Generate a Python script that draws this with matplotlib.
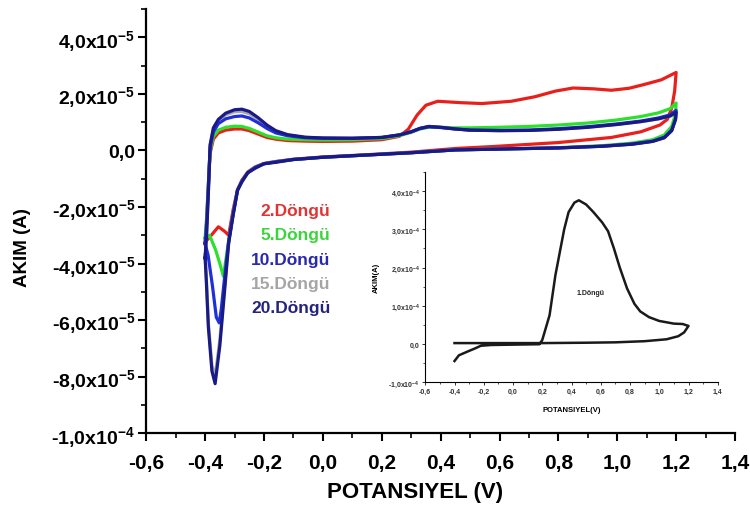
import numpy as np
import matplotlib
matplotlib.use("Agg")
import matplotlib.pyplot as plt
from matplotlib.ticker import MultipleLocator

plt.rcParams['font.family'] = ['Liberation Sans', 'DejaVu Sans']
plt.rcParams['font.weight'] = 'bold'
plt.rcParams['mathtext.default'] = 'regular'

# --- data: potential (V) and current (x1e-5 A) for each cycle ---
E_2 = [-0.400, -0.395, -0.389, -0.383, -0.372, -0.355, -0.330, -0.300, -0.275, -0.250,
       -0.220, -0.190, -0.160, -0.120, -0.060, 0.000, 0.100, 0.200, 0.260, 0.290,
       0.320, 0.350, 0.390, 0.470, 0.540, 0.640, 0.720, 0.790, 0.850, 0.920,
       0.980, 1.040, 1.090, 1.150, 1.200,
       1.195, 1.185, 1.170, 1.145, 1.080, 0.980, 0.800, 0.580, 0.450, 0.300,
       0.150, 0.000, -0.100, -0.160, -0.200, -0.230, -0.255, -0.275, -0.290, -0.305,
       -0.320, -0.335, -0.355, -0.375, -0.400]
I_2 = [-3.25, -2.5, -1.2, -0.1, 0.40, 0.62, 0.72, 0.76, 0.76, 0.70,
       0.58, 0.46, 0.40, 0.35, 0.33, 0.32, 0.33, 0.38, 0.50, 0.75,
       1.25, 1.60, 1.74, 1.69, 1.66, 1.74, 1.90, 2.10, 2.21, 2.18,
       2.13, 2.20, 2.33, 2.50, 2.76,
       2.10, 1.50, 1.10, 0.90, 0.66, 0.46, 0.28, 0.14, 0.07, -0.06,
       -0.15, -0.23, -0.31, -0.39, -0.46, -0.58, -0.76, -1.05, -1.40, -2.10,
       -3.00, -2.85, -2.70, -2.95, -3.25]

E_5 = [-0.400, -0.395, -0.389, -0.383, -0.372, -0.355, -0.330, -0.300, -0.275, -0.250,
       -0.220, -0.190, -0.160, -0.120, -0.060, 0.000, 0.100, 0.200, 0.260, 0.300,
       0.330, 0.360, 0.400, 0.450, 0.500, 0.600, 0.700, 0.800, 0.900, 1.000,
       1.080, 1.140, 1.180, 1.200,
       1.198, 1.185, 1.160, 1.120, 1.050, 0.950, 0.800, 0.600, 0.450, 0.300,
       0.150, 0.000, -0.100, -0.160, -0.200, -0.230, -0.255, -0.275, -0.290, -0.305,
       -0.320, -0.338, -0.350, -0.365, -0.385, -0.400]
I_5 = [-3.1, -2.4, -1.2, 0.0, 0.50, 0.72, 0.82, 0.86, 0.85, 0.78,
       0.65, 0.52, 0.45, 0.40, 0.38, 0.37, 0.38, 0.42, 0.52, 0.64,
       0.76, 0.82, 0.82, 0.80, 0.80, 0.82, 0.85, 0.90, 0.97, 1.08,
       1.20, 1.33, 1.48, 1.68,
       1.30, 0.85, 0.55, 0.38, 0.26, 0.17, 0.10, 0.05, 0.02, -0.08,
       -0.16, -0.24, -0.32, -0.40, -0.47, -0.60, -0.78, -1.08, -1.40, -2.25,
       -3.20, -4.45, -4.00, -3.50, -3.00, -3.10]

E_10 = [-0.400, -0.395, -0.389, -0.383, -0.372, -0.355, -0.330, -0.300, -0.275, -0.250,
        -0.220, -0.190, -0.160, -0.120, -0.060, 0.000, 0.100, 0.200, 0.260, 0.300,
        0.330, 0.360, 0.400, 0.450, 0.500, 0.600, 0.700, 0.800, 0.900, 1.000,
        1.080, 1.140, 1.180, 1.200,
        1.198, 1.185, 1.160, 1.120, 1.050, 0.950, 0.800, 0.600, 0.450, 0.300,
        0.150, 0.000, -0.100, -0.160, -0.200, -0.230, -0.255, -0.275, -0.290, -0.305,
        -0.320, -0.335, -0.345, -0.352, -0.362, -0.375, -0.390, -0.400]
I_10 = [-3.3, -2.6, -1.3, 0.1, 0.65, 0.95, 1.12, 1.20, 1.22, 1.15,
        0.98, 0.78, 0.62, 0.52, 0.45, 0.43, 0.43, 0.46, 0.55, 0.66,
        0.78, 0.84, 0.81, 0.76, 0.72, 0.71, 0.72, 0.77, 0.84, 0.94,
        1.04, 1.15, 1.26, 1.42,
        1.12, 0.72, 0.47, 0.33, 0.23, 0.15, 0.09, 0.05, 0.02, -0.08,
        -0.16, -0.24, -0.32, -0.40, -0.47, -0.60, -0.78, -1.08, -1.40, -2.25,
        -3.20, -4.60, -5.60, -6.10, -5.90, -4.80, -3.70, -3.30]

E_15 = [-0.400, -0.395, -0.389, -0.383, -0.372, -0.355, -0.330, -0.300, -0.275, -0.250,
        -0.220, -0.190, -0.160, -0.120, -0.060, 0.000, 0.100, 0.200, 0.260, 0.300,
        0.330, 0.360, 0.400, 0.450, 0.500, 0.600, 0.700, 0.800, 0.900, 1.000,
        1.080, 1.140, 1.180, 1.200,
        1.198, 1.185, 1.160, 1.120, 1.050, 0.950, 0.800, 0.600, 0.450, 0.300,
        0.150, 0.000, -0.100, -0.160, -0.200, -0.230, -0.255, -0.275, -0.290, -0.305,
        -0.320, -0.335, -0.350, -0.366, -0.377, -0.389, -0.396, -0.400]
I_15 = [-3.7, -2.9, -1.5, 0.2, 0.75, 1.05, 1.26, 1.37, 1.38, 1.30,
        1.10, 0.86, 0.67, 0.54, 0.46, 0.44, 0.43, 0.46, 0.55, 0.66,
        0.78, 0.85, 0.82, 0.76, 0.72, 0.70, 0.71, 0.75, 0.82, 0.92,
        1.02, 1.12, 1.22, 1.36,
        1.10, 0.70, 0.45, 0.32, 0.22, 0.15, 0.09, 0.05, 0.02, -0.08,
        -0.16, -0.24, -0.32, -0.40, -0.47, -0.60, -0.78, -1.08, -1.40, -2.25,
        -3.25, -4.95, -6.70, -8.00, -7.60, -6.10, -4.50, -3.70]

E_20 = [-0.400, -0.395, -0.389, -0.383, -0.372, -0.355, -0.330, -0.300, -0.275, -0.250,
        -0.220, -0.190, -0.160, -0.120, -0.060, 0.000, 0.100, 0.200, 0.260, 0.300,
        0.330, 0.360, 0.400, 0.450, 0.500, 0.600, 0.700, 0.800, 0.900, 1.000,
        1.080, 1.140, 1.180, 1.200,
        1.198, 1.185, 1.160, 1.120, 1.050, 0.950, 0.800, 0.600, 0.450, 0.300,
        0.150, 0.000, -0.100, -0.160, -0.200, -0.230, -0.255, -0.275, -0.290, -0.305,
        -0.320, -0.335, -0.350, -0.366, -0.377, -0.389, -0.396, -0.400]
I_20 = [-3.8, -3.0, -1.5, 0.2, 0.80, 1.10, 1.32, 1.44, 1.46, 1.38,
        1.16, 0.90, 0.70, 0.56, 0.47, 0.44, 0.43, 0.46, 0.55, 0.66,
        0.78, 0.85, 0.82, 0.76, 0.72, 0.70, 0.71, 0.75, 0.82, 0.92,
        1.02, 1.12, 1.22, 1.35,
        1.10, 0.70, 0.45, 0.32, 0.22, 0.15, 0.09, 0.05, 0.02, -0.08,
        -0.16, -0.24, -0.32, -0.42, -0.47, -0.63, -0.79, -1.11, -1.41, -2.30,
        -3.28, -5.10, -6.90, -8.25, -7.80, -6.25, -4.60, -3.80]

# inset: first cycle (x1e-4 A)
E_1 = [-0.40, -0.37, -0.31, -0.26, -0.22, -0.15, 0.00, 0.18, 0.20, 0.25,
       0.29, 0.32, 0.35, 0.38, 0.42, 0.45, 0.50, 0.55, 0.61, 0.65,
       0.69, 0.73, 0.78, 0.83, 0.87, 0.93, 1.00, 1.10, 1.16, 1.20,
       1.17, 1.13, 1.05, 0.90, 0.70, 0.50, 0.20, 0.00, -0.20, -0.40]
I_1 = [-0.45, -0.30, -0.20, -0.12, -0.05, -0.03, -0.02, -0.01, 0.10, 0.75,
       1.80, 2.40, 3.00, 3.45, 3.70, 3.76, 3.65, 3.45, 3.18, 2.95,
       2.50, 2.00, 1.45, 1.05, 0.85, 0.70, 0.60, 0.53, 0.52, 0.47,
       0.30, 0.20, 0.12, 0.07, 0.04, 0.03, 0.02, 0.02, 0.02, 0.02]

cycles = ['2.Döngü', '5.Döngü', '10.Döngü', '15.Döngü', '20.Döngü']
line_colors = ['#e8201c', '#2ee02e', '#2030d8', '#a8a8a8', '#1a1a86']
text_colors = ['#e03434', '#3cd43c', '#2828b0', '#a5a5a5', '#24247e']

x_ticks = [-0.6, -0.4, -0.2, 0.0, 0.2, 0.4, 0.6, 0.8, 1.0, 1.2, 1.4]
x_ticklabels = ['-0,6', '-0,4', '-0,2', '0,0', '0,2', '0,4', '0,6', '0,8', '1,0', '1,2', '1,4']
y_ticks = [-1e-4, -8e-5, -6e-5, -4e-5, -2e-5, 0.0, 2e-5, 4e-5]
y_ticklabels = ['-1,0x10$^{-4}$', '-8,0x10$^{-5}$', '-6,0x10$^{-5}$', '-4,0x10$^{-5}$',
                '-2,0x10$^{-5}$', '0,0', '2,0x10$^{-5}$', '4,0x10$^{-5}$']
in_y_ticks = [-1e-4, 0.0, 1e-4, 2e-4, 3e-4, 4e-4]
in_y_ticklabels = ['-1,0x10$^{-4}$', '0,0', '1,0x10$^{-4}$', '2,0x10$^{-4}$',
                   '3,0x10$^{-4}$', '4,0x10$^{-4}$']

fig = plt.figure(figsize=(7.5, 5.06), dpi=100)
ax = fig.add_axes([0.195, 0.142, 0.785, 0.838])

curves = [(E_2, I_2), (E_5, I_5), (E_15, I_15), (E_10, I_10), (E_20, I_20)]
order = [0, 1, 3, 2, 4]
for (E, I), k in zip(curves, order):
    ax.plot(E, np.array(I) * 1e-5, color=line_colors[k], lw=2.3, solid_joinstyle='round')

ax.set_xlim(-0.6, 1.4)
ax.set_ylim(-1e-4, 5e-5)
ax.set_xticks(x_ticks)
ax.set_xticklabels(x_ticklabels, fontsize=15)
ax.set_yticks(y_ticks)
ax.set_yticklabels(y_ticklabels, fontsize=14)
ax.xaxis.set_minor_locator(MultipleLocator(0.1))
ax.yaxis.set_minor_locator(MultipleLocator(1e-5))
for s in ['top', 'right']:
    ax.spines[s].set_visible(False)
for s in ['left', 'bottom']:
    ax.spines[s].set_linewidth(1.6)
ax.tick_params(axis='y', which='major', direction='out', length=6, width=1.5, pad=2)
ax.tick_params(axis='x', which='major', direction='out', length=6, width=1.5, pad=8)
ax.tick_params(which='minor', direction='out', length=3.5, width=1.2)
ax.set_xlabel('POTANSIYEL (V)', fontsize=16, fontweight='bold')
ax.set_ylabel('AKIM (A)', fontsize=13.5, fontweight='bold')
ax.xaxis.set_label_coords(0.457, -0.112)
ax.yaxis.set_label_coords(-0.195, 0.439)

# cycle labels
label_y = [0.524, 0.469, 0.410, 0.354, 0.297]
for name, col, yy in zip(cycles, text_colors, label_y):
    ax.text(0.313, yy, name, color=col, fontsize=12.5, fontweight='bold',
            ha='right', va='center', transform=ax.transAxes)

# inset with first cycle
axi = fig.add_axes([0.567, 0.243, 0.39, 0.415])
axi.patch.set_alpha(0)
axi.plot(E_1, np.array(I_1) * 1e-4, color='#1a1a1a', lw=1.8)
axi.set_xlim(-0.6, 1.4)
axi.set_ylim(-1e-4, 4.5e-4)
axi.set_xticks(x_ticks)
axi.set_xticklabels(x_ticklabels, fontsize=5)
axi.set_yticks(in_y_ticks)
axi.set_yticklabels(in_y_ticklabels, fontsize=5)
axi.xaxis.set_minor_locator(MultipleLocator(0.1))
axi.yaxis.set_minor_locator(MultipleLocator(0.5e-4))
for s in ['top', 'right']:
    axi.spines[s].set_visible(False)
for s in ['left', 'bottom']:
    axi.spines[s].set_linewidth(0.8)
axi.tick_params(which='major', direction='out', length=2.5, width=0.7, pad=1.5, colors='#333333')
axi.tick_params(which='minor', direction='out', length=1.5, width=0.6, colors='#333333')
axi.set_xlabel('POTANSIYEL(V)', fontsize=5.5, fontweight='bold', labelpad=8)
axi.set_ylabel('AKIM(A)', fontsize=5.5, fontweight='bold', labelpad=6)
axi.text(0.53, 1.34e-4, '1.Döngü', fontsize=5, ha='center', va='center', color='#222222')

fig.savefig('out.png', dpi=100)
